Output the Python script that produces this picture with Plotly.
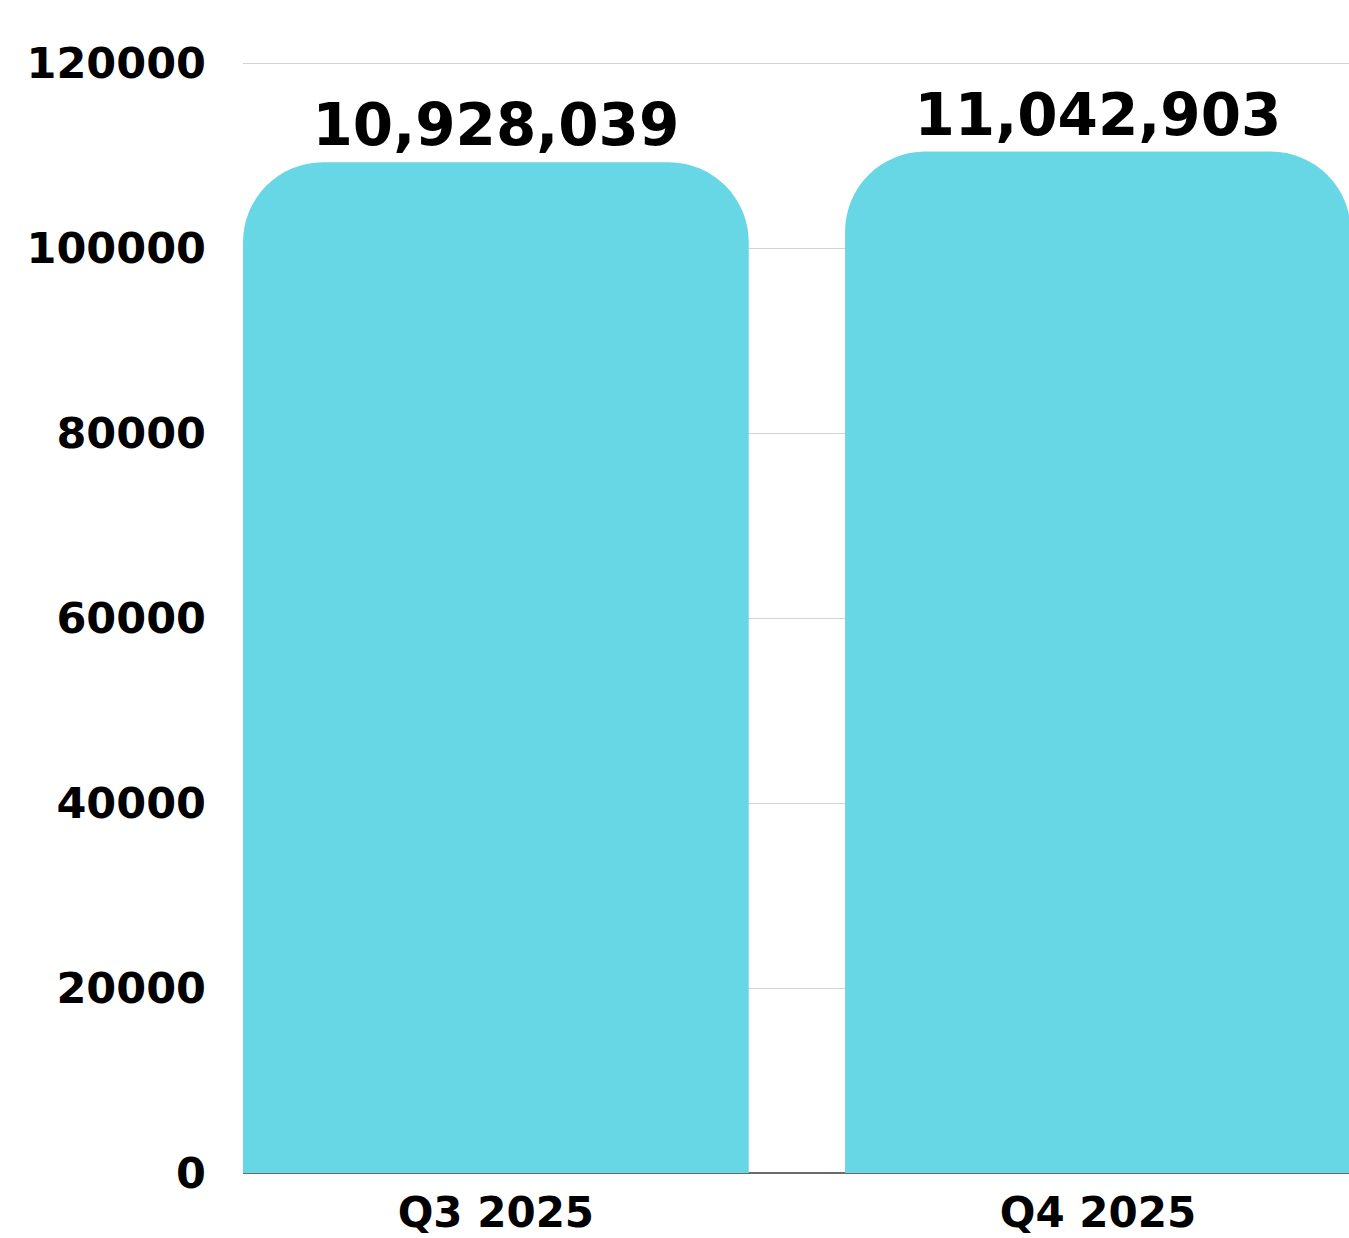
import plotly.graph_objects as go

# Quarterly totals (axis units are hundreds; labels show the full figure)
quarters = ["Q3 2025", "Q4 2025"]
totals = [109280.39, 110429.03]
y_ticks = [0, 20000, 40000, 60000, 80000, 100000, 120000]

bar_labels = [f"{round(v * 100):,}" for v in totals]

BAR_COLOR = "#68D7E5"
FONT = "DejaVu Sans"

fig = go.Figure(
    go.Bar(
        x=quarters,
        y=totals,
        text=bar_labels,
        textposition="outside",
        textfont=dict(family=FONT, size=58, color="#000000", weight="bold"),
        marker=dict(color=BAR_COLOR, cornerradius=80, line=dict(width=0)),
        cliponaxis=False,
        hoverinfo="skip",
    )
)

fig.update_layout(
    width=1349,
    height=1238,
    margin=dict(l=243, r=0, t=62, b=65, autoexpand=False),
    paper_bgcolor="#ffffff",
    plot_bgcolor="#ffffff",
    bargap=0.16,
    showlegend=False,
    font=dict(family=FONT, color="#000000"),
)

fig.update_xaxes(
    range=[-0.42, 1.417],
    showgrid=False,
    showline=False,
    zeroline=False,
    ticks="",
    ticklabelstandoff=11,
    tickfont=dict(family=FONT, size=42, color="#000000", weight="bold"),
    automargin=False,
)

# top of range sits a hair above 120000 so its gridline is still drawn
fig.update_yaxes(
    range=[0, 120110],
    tickvals=y_ticks,
    ticktext=[str(t) for t in y_ticks],
    showgrid=True,
    gridcolor="#d3d3d3",
    gridwidth=1,
    zeroline=True,
    zerolinecolor="#6b6b6b",
    zerolinewidth=2,
    showline=False,
    ticks="",
    ticklabelstandoff=36,
    tickfont=dict(family=FONT, size=43, color="#000000", weight="bold"),
    automargin=False,
)

fig.write_html("out.html")
